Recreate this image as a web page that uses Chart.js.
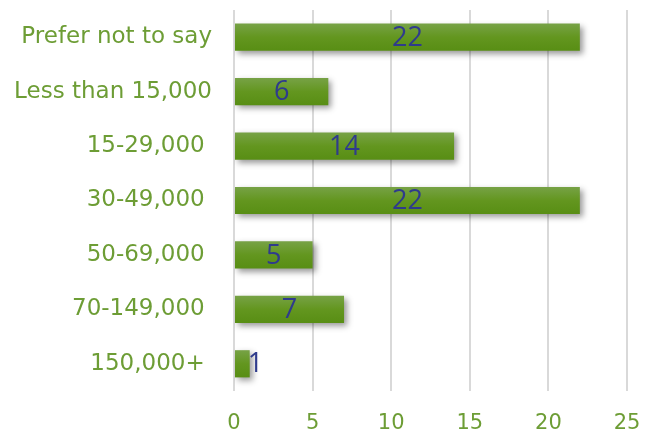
<!DOCTYPE html>
<html>
<head>
<meta charset="utf-8">
<script src="https://cdn.jsdelivr.net/npm/chart.js@4.4.1/dist/chart.umd.min.js"></script>
<style>
  html, body { margin: 0; padding: 0; background: #fff; }
  #wrap { width: 655px; height: 434px; }
</style>
</head>
<body>
<div id="wrap"><canvas id="c"></canvas></div>
<script>
const categories = ['Prefer not to say', 'Less than 15,000', '15-29,000 ', '30-49,000 ', '50-69,000 ', '70-149,000 ', '150,000+ '];
const counts = [22, 6, 14, 22, 5, 7, 1];
const xTicks = [0, 5, 10, 15, 20, 25];

const green = '#6d9d35';
const labelBlue = '#2f3b8c';
const axisFont = "'DejaVu Sans', 'Noto Sans', sans-serif";
const valueFont = "'Open Sans', 'Noto Sans', sans-serif";

function barGradient(ctx) {
  const chart = ctx.chart;
  const area = chart.chartArea;
  const y = chart.scales.y;
  if (!area || !y) return '#5f9420';
  const mid = y.getPixelForValue(ctx.dataIndex);
  const half = (area.height / categories.length) * 0.5 / 2;
  const g = chart.ctx.createLinearGradient(0, mid - half, 0, mid + half);
  g.addColorStop(0, '#77a246');
  g.addColorStop(0.5, '#63961f');
  g.addColorStop(1, '#588e14');
  return g;
}

// soft drop shadow under the bars
const barShadow = {
  id: 'barShadow',
  beforeDatasetsDraw(chart) {
    const c = chart.ctx;
    c.save();
    c.shadowColor = 'rgba(0,0,0,0.4)';
    c.shadowBlur = 6;
    c.shadowOffsetX = 3;
    c.shadowOffsetY = 3;
  },
  afterDatasetsDraw(chart) {
    chart.ctx.restore();
  }
};

// value written in the middle of each bar (just past the end when it doesn't fit)
const valueLabels = {
  id: 'valueLabels',
  afterDatasetsDraw(chart) {
    const c = chart.ctx;
    const meta = chart.getDatasetMeta(0);
    c.save();
    c.font = '27px ' + valueFont;
    c.fillStyle = labelBlue;
    c.textBaseline = 'middle';
    meta.data.forEach((bar, i) => {
      const txt = String(counts[i]);
      const w = c.measureText(txt).width;
      const len = bar.x - bar.base;
      if (w + 4 > len) {
        c.textAlign = 'left';
        c.fillText(txt, bar.x - 2, bar.y + 1);
      } else {
        c.textAlign = 'center';
        c.fillText(txt, (bar.x + bar.base) / 2, bar.y + 1);
      }
    });
    c.restore();
  }
};

new Chart(document.getElementById('c'), {
  type: 'bar',
  data: {
    labels: categories,
    datasets: [{
      data: counts,
      backgroundColor: barGradient,
      borderWidth: 0,
      barPercentage: 0.5,
      categoryPercentage: 1
    }]
  },
  options: {
    indexAxis: 'y',
    responsive: true,
    maintainAspectRatio: false,
    animation: false,
    layout: { padding: { top: 10, right: 28, left: 0, bottom: 0 } },
    plugins: {
      legend: { display: false },
      tooltip: { enabled: false }
    },
    scales: {
      x: {
        min: 0,
        max: 25,
        afterBuildTicks: (s) => { s.ticks = xTicks.map(v => ({ value: v })); },
        afterFit: (s) => { s.height = 43; s.paddingLeft = 0; s.paddingRight = 0; },
        grid: { color: '#d9d9d9', lineWidth: 2, drawTicks: false },
        border: { display: false },
        ticks: { color: green, padding: 20, font: { family: axisFont, size: 21 } }
      },
      y: {
        afterFit: (s) => { s.width = 234; s.paddingTop = 0; s.paddingBottom = 0; },
        grid: { display: false },
        border: { display: false },
        ticks: { color: green, padding: 14, font: { family: axisFont, size: 23 } }
      }
    }
  },
  plugins: [barShadow, valueLabels]
});
</script>
</body>
</html>
